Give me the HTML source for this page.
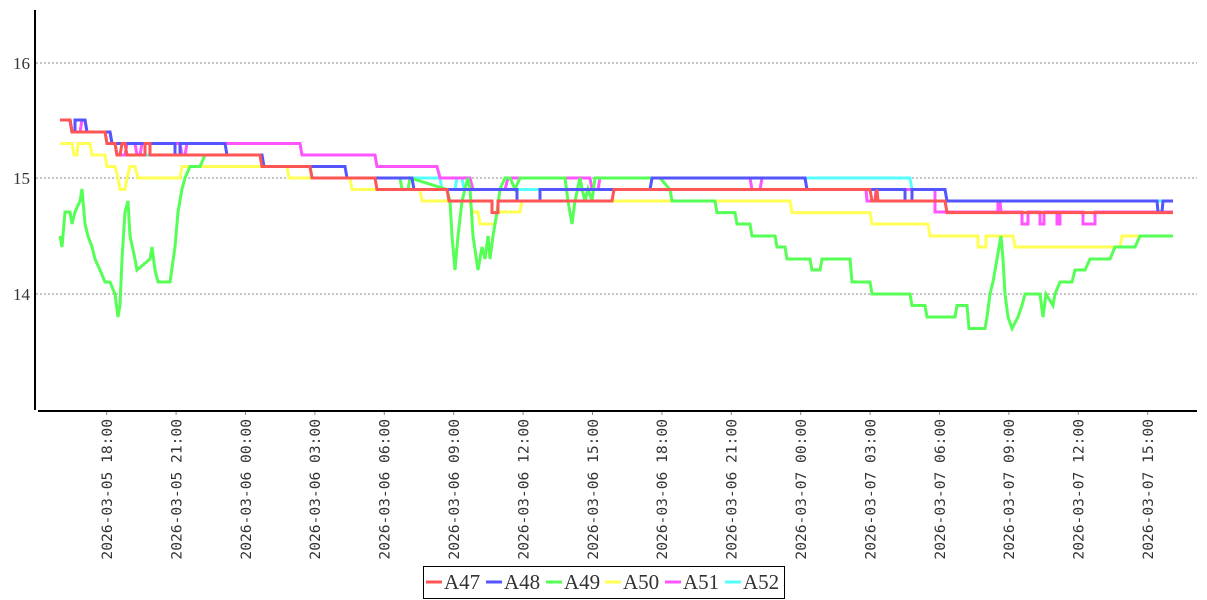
<!DOCTYPE html>
<html><head><meta charset="utf-8"><style>
html,body{margin:0;padding:0;background:#fff;}
svg{display:block;}
</style></head><body>
<svg width="1207" height="600" viewBox="0 0 1207 600" xmlns="http://www.w3.org/2000/svg">
<rect width="1207" height="600" fill="#fff"/>
<g stroke="#888" stroke-dasharray="2,2" stroke-width="1">
<line x1="36" y1="63" x2="1197" y2="63"/>
<line x1="36" y1="178" x2="1197" y2="178"/>
<line x1="36" y1="294" x2="1197" y2="294"/>
</g>
<g font-family="Liberation Serif, serif" font-size="17" fill="#333" text-anchor="end">
<text x="30" y="69">16</text>
<text x="30" y="184">15</text>
<text x="30" y="300">14</text>
</g>
<g fill="none" stroke-width="3" stroke-linejoin="miter">
<polyline stroke="#55ffff" points="60,120 70,120 72,132 105,132 107,143.5 115,143.5 117,155 260,155 262,166.5 310,166.5 312,178 440,178 442,189.5 455,189.5 457,178 462,178 464,189.5 650,189.5 652,178 910,178 912,189.5 945,189.5 947,201 1173,201"/>
<polyline stroke="#ff55ff" points="60,120 70,120 72,132 80,132 82,120 85,120 87,132 110,132 112,143.5 115,143.5 117,155 125,155 127,143.5 135,143.5 137,155 140,155 142,143.5 180,143.5 182,155 185,155 187,143.5 300,143.5 302,155 375,155 377,166.5 437,166.5 440,178 470,178 473,189.5 505,189.5 508,178 590,178 592,189.5 598,189.5 600,178 750,178 752,189.5 760,189.5 762,178 805,178 807,189.5 866,189.5 867,201 875,201 876,189.5 935,189.5 935,212 945,212 945,212 998,212 998,201 1000,201 1001,212 1022,212 1022,224 1028,224 1028,212 1040,212 1040,224 1044,224 1044,212 1057,212 1057,224 1060,224 1060,212 1083,212 1083,224 1095,224 1095,212 1173,212"/>
<polyline stroke="#ffff55" points="60,143.5 72,143.5 74,155 77,155 78,143.5 90,143.5 92,155 105,155 107,166.5 115,166.5 118,178 120,189.5 125,189.5 127,178 130,166.5 135,166.5 138,178 180,178 182,166.5 287,166.5 289,178 350,178 352,189.5 420,189.5 422,201 470,201 472,212 478,212 480,224 495,224 497,212 520,212 522,201 790,201 792,212.6 870,212.6 872,224 928,224 930,236 978,236 978,247 986,247 986,236 1013,236 1015,247 1120,247 1122,236 1148,236"/>
<polyline stroke="#55ff55" points="60,236 62,247 65,212 70,212 72,224 75,212 80,201 82,189 85,224 88,236 92,247 95,259 100,270 105,282 110,282 115,294 118,317 120,305 122,259 125,212 128,201 130,236 135,259 137,270 150,259 152,247 155,270 158,282 170,282 175,247 178,212 182,189 185,178 190,166.5 200,166.5 205,155 260,155 262,166.5 310,166.5 312,178 400,178 402,189.5 408,189.5 410,178 447,189.5 450,201 452,236 455,270 458,236 462,201 465,189 468,178 470,189 473,236 478,270 482,247 485,259 488,236 490,259 493,236 497,212 500,189 505,178 510,178 515,189 520,178 565,178 568,201 572,224 575,201 580,178 582,189 585,201 588,189 592,201 595,178 660,178 670,189.5 672,201 715,201 717,212.6 735,212.6 737,224 750,224 752,236 775,236 777,247 785,247 787,259 810,259 812,270 820,270 822,259 850,259 852,282 870,282 872,294 910,294 912,305.5 925,305.5 927,317 955,317 957,305.5 967,305.5 969,328.5 985,328.5 987,317 990,294 993,282 997,259 999,247 1001,236 1003,259 1005,294 1008,317 1012,328.5 1018,317 1022,305.5 1025,294 1040,294 1043,317 1046,294 1053,305.5 1055,294 1060,282 1072,282 1075,270 1085,270 1090,259 1110,259 1115,247 1135,247 1140,236 1173,236"/>
<polyline stroke="#5555ff" points="60,120 70,120 72,132 75,132 75,120 85,120 87,132 110,132 112,143.5 175,143.5 175,155 180,155 180,143.5 225,143.5 227,155 262,155 264,166.5 345,166.5 347,178 412,178 414,189.5 517,189.5 517,201 540,201 540,189.5 650,189.5 652,178 805,178 807,189.5 905,189.5 905,201 912,201 912,189.5 945,189.5 947,201 1157,201 1158,212 1162,212 1163,201 1173,201"/>
<polyline stroke="#ff5555" points="60,120 70,120 72,132 105,132 107,143.5 115,143.5 117,155 120,155 122,143.5 125,143.5 127,155 145,155 145,143.5 150,143.5 150,155 260,155 262,166.5 310,166.5 312,178 375,178 377,189.5 447,189.5 449,201 492,201 492,212.6 498,212.6 498,201 612,201 614,189.5 870,189.5 872,201 875,201 877,189.5 878,201 945,201 947,212.6 1173,212.6"/>
</g>
<line x1="35" y1="10" x2="35" y2="410" stroke="#000" stroke-width="2"/>
<line x1="38" y1="411" x2="1197" y2="411" stroke="#000" stroke-width="2"/>
<g stroke="#888" stroke-width="1">
<line x1="106.7" y1="412" x2="106.7" y2="415"/><line x1="176.1" y1="412" x2="176.1" y2="415"/><line x1="245.5" y1="412" x2="245.5" y2="415"/><line x1="314.9" y1="412" x2="314.9" y2="415"/><line x1="384.3" y1="412" x2="384.3" y2="415"/><line x1="453.7" y1="412" x2="453.7" y2="415"/><line x1="523.1" y1="412" x2="523.1" y2="415"/><line x1="592.5" y1="412" x2="592.5" y2="415"/><line x1="661.9" y1="412" x2="661.9" y2="415"/><line x1="731.3" y1="412" x2="731.3" y2="415"/><line x1="800.7" y1="412" x2="800.7" y2="415"/><line x1="870.1" y1="412" x2="870.1" y2="415"/><line x1="939.5" y1="412" x2="939.5" y2="415"/><line x1="1008.9" y1="412" x2="1008.9" y2="415"/><line x1="1078.3" y1="412" x2="1078.3" y2="415"/><line x1="1147.7" y1="412" x2="1147.7" y2="415"/>
</g>
<g font-family="DejaVu Sans Mono, Liberation Mono, monospace" font-size="14.6" fill="#333" text-anchor="end">
<text transform="translate(112,419) rotate(-90)">2026-03-05 18:00</text>
<text transform="translate(181.4,419) rotate(-90)">2026-03-05 21:00</text>
<text transform="translate(250.8,419) rotate(-90)">2026-03-06 00:00</text>
<text transform="translate(320.2,419) rotate(-90)">2026-03-06 03:00</text>
<text transform="translate(389.6,419) rotate(-90)">2026-03-06 06:00</text>
<text transform="translate(459,419) rotate(-90)">2026-03-06 09:00</text>
<text transform="translate(528.4,419) rotate(-90)">2026-03-06 12:00</text>
<text transform="translate(597.8,419) rotate(-90)">2026-03-06 15:00</text>
<text transform="translate(667.2,419) rotate(-90)">2026-03-06 18:00</text>
<text transform="translate(736.6,419) rotate(-90)">2026-03-06 21:00</text>
<text transform="translate(806,419) rotate(-90)">2026-03-07 00:00</text>
<text transform="translate(875.4,419) rotate(-90)">2026-03-07 03:00</text>
<text transform="translate(944.8,419) rotate(-90)">2026-03-07 06:00</text>
<text transform="translate(1014.2,419) rotate(-90)">2026-03-07 09:00</text>
<text transform="translate(1083.6,419) rotate(-90)">2026-03-07 12:00</text>
<text transform="translate(1153,419) rotate(-90)">2026-03-07 15:00</text>
</g>
<rect x="423.5" y="566.5" width="361" height="32" fill="#fff" stroke="#000" stroke-width="1"/>
<g stroke-width="3">
<line x1="426" y1="582" x2="442" y2="582" stroke="#ff5555"/>
<line x1="486" y1="582" x2="502" y2="582" stroke="#5555ff"/>
<line x1="546" y1="582" x2="562" y2="582" stroke="#55ff55"/>
<line x1="605" y1="582" x2="621" y2="582" stroke="#ffff55"/>
<line x1="665" y1="582" x2="681" y2="582" stroke="#ff55ff"/>
<line x1="725" y1="582" x2="741" y2="582" stroke="#55ffff"/>
</g>
<g font-family="Liberation Serif, serif" font-size="21" fill="#333">
<text x="444" y="589">A47</text>
<text x="504" y="589">A48</text>
<text x="564" y="589">A49</text>
<text x="623" y="589">A50</text>
<text x="683" y="589">A51</text>
<text x="743" y="589">A52</text>
</g>
</svg>
</body></html>
